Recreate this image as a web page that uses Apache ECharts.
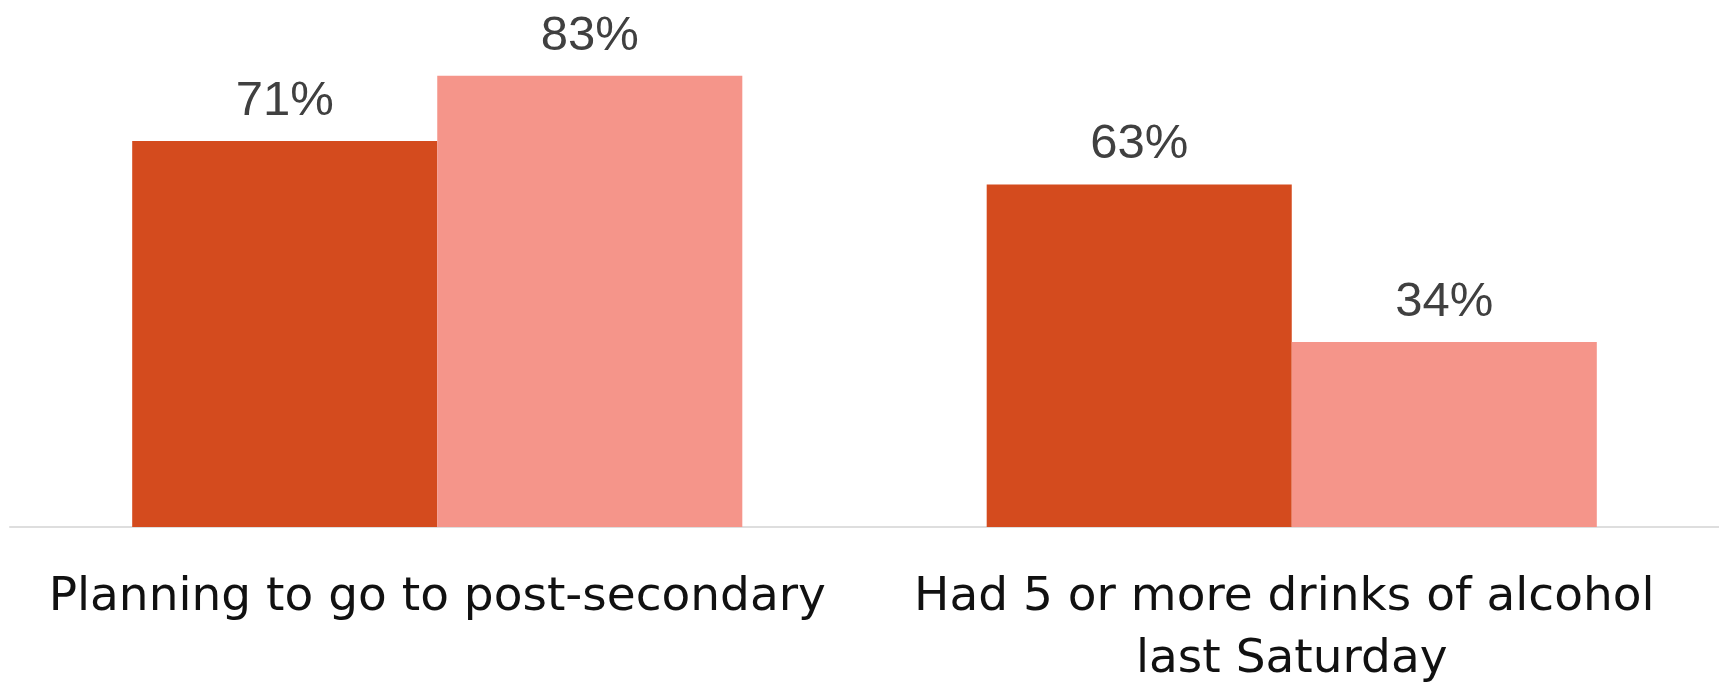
<!DOCTYPE html>
<html>
<head>
<meta charset="utf-8">
<script src="https://cdn.jsdelivr.net/npm/echarts@6/dist/echarts.min.js"></script>
<style>
html,body{margin:0;padding:0;background:#fff;}
#chart{width:1719px;height:691px;}
</style>
</head>
<body>
<div id="chart"></div>
<script>
const categories = ['Planning to go to post-secondary', 'Had 5 or more drinks of alcohol last Saturday'];
const seriesA = [71, 63];
const seriesB = [83, 34];

const chart = echarts.init(document.getElementById('chart'), null, {renderer: 'canvas'});
const labelCfg = {
  show: true,
  position: 'top',
  distance: 15,
  formatter: '{c}%',
  color: '#404040',
  fontSize: 49,
  fontFamily: 'Liberation Sans'
};
chart.setOption({
  animation: false,
  grid: {left: 10, right: 0, top: 37.6, bottom: 162},
  xAxis: {
    type: 'category',
    data: categories,
    axisLine: {show: true, lineStyle: {color: '#dedede', width: 2}},
    axisTick: {show: false},
    axisLabel: {
      interval: 0,
      margin: 40,
      color: '#111111',
      fontSize: 47,
      lineHeight: 62,
      fontFamily: 'DejaVu Sans',
      width: 810,
      overflow: 'break'
    }
  },
  yAxis: {
    type: 'value',
    min: 0,
    max: 90,
    show: false,
    splitLine: {show: false}
  },
  series: [
    {
      type: 'bar',
      data: seriesA,
      barGap: '0%',
      barCategoryGap: '28.6%',
      itemStyle: {color: '#D44B1E'},
      label: labelCfg
    },
    {
      type: 'bar',
      data: seriesB,
      barGap: '0%',
      barCategoryGap: '28.6%',
      itemStyle: {color: '#F5958A'},
      label: labelCfg
    }
  ]
});
</script>
</body>
</html>
